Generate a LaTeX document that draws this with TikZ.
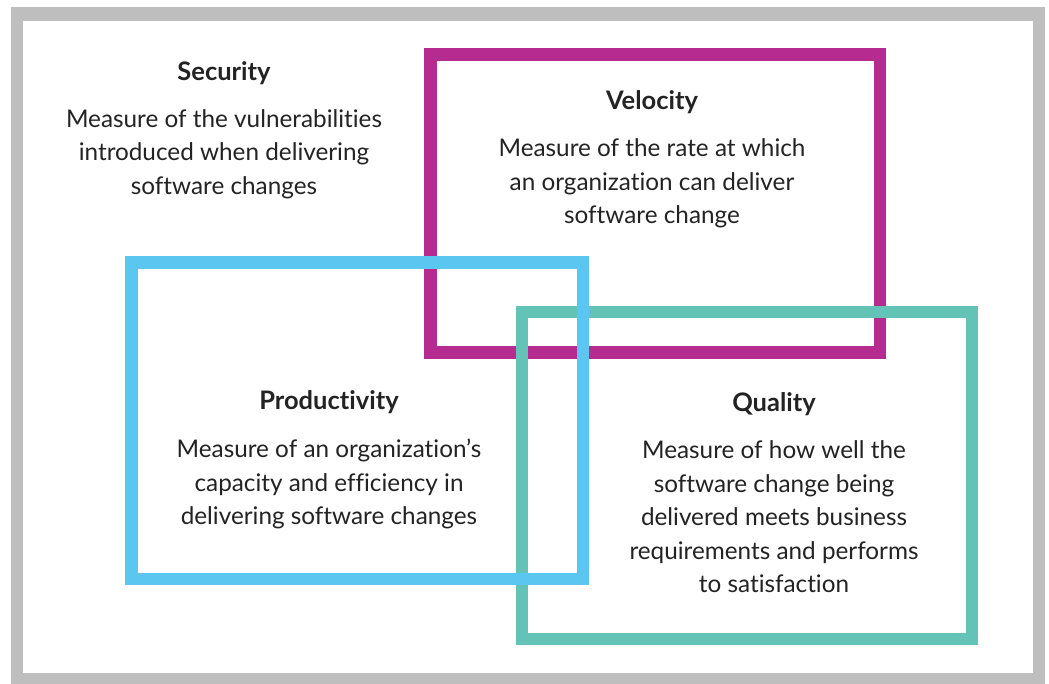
\documentclass[tikz,border=0pt]{standalone}
\usepackage{fontspec}
\setmainfont{Lato}[Ligatures={NoCommon}]
\definecolor{framegray}{RGB}{190,190,190}
\definecolor{velmag}{RGB}{181,43,143}
\definecolor{problue}{RGB}{91,198,240}
\definecolor{qualteal}{RGB}{98,195,182}
\definecolor{txt}{RGB}{35,35,35}
\tikzset{
  box/.style={line width=12.5pt},
  ttl/.style={font=\fontsize{25.5}{30}\selectfont\bfseries, text=txt, inner sep=0pt},
  body/.style={font=\fontsize{24.3}{33.5}\selectfont, text=txt, align=center, inner sep=0pt},
}
\begin{document}
\begin{tikzpicture}[x=1pt,y=-1pt]
\useasboundingbox (0,0) rectangle (1049,684);
\fill[framegray] (11,7) rectangle (1045,684);
\fill[white] (23,21) rectangle (1033,673);
% rectangles
\draw[box, velmag] (430.5,54.5) rectangle (880,352.5);
\draw[box, qualteal] (522,312) rectangle (972,639);
\draw[box, problue] (131.5,262.5) rectangle (583,579);
% texts
\node[ttl] (sect) at (224,73) {Security};
\node[body] (secb) at (224,154) {Measure of the vulnerabilities\\introduced when delivering\\software changes};
\node[ttl] (velt) at (652,102) {Velocity};
\node[body] (velb) at (652,183.5) {Measure of the rate at which\\an organization can deliver\\software change};
\node[ttl] (prot) at (329,402) {Productivity};
\node[body] (prob) at (329,484) {Measure of an organization’s\\capacity and efficiency in\\delivering software changes};
\node[ttl] (qualt) at (774,404) {Quality};
\node[body] (qualb) at (774,517) {Measure of how well the\\software change being\\delivered meets business\\requirements and performs\\to satisfaction};
\end{tikzpicture}
\end{document}
